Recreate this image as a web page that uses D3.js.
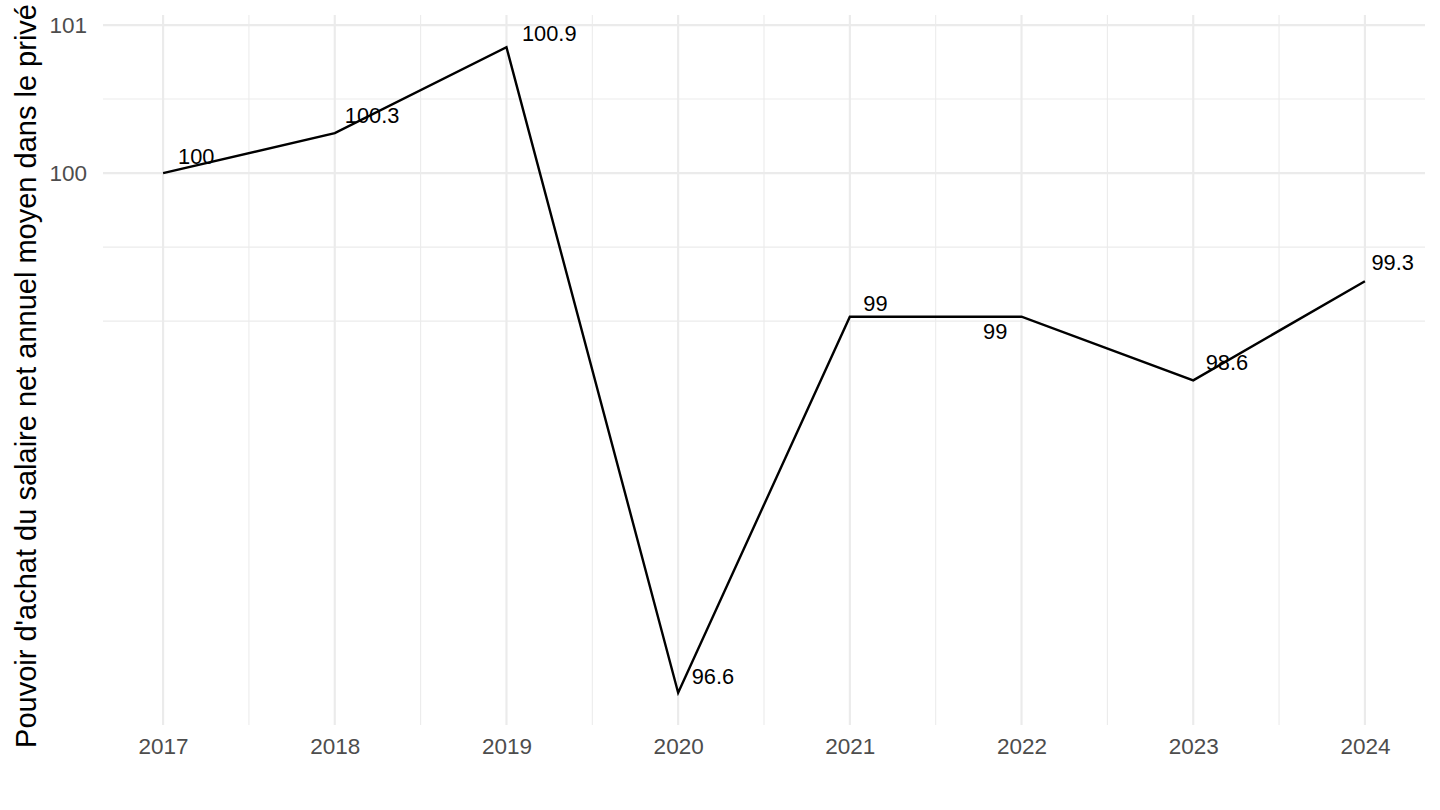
<!DOCTYPE html>
<html>
<head>
<meta charset="utf-8">
<script src="https://cdn.jsdelivr.net/npm/d3@7"></script>
<style>
  html, body { margin: 0; padding: 0; background: #fff; }
  svg { display: block; font-family: "Liberation Sans", Arial, Helvetica, sans-serif; }
</style>
</head>
<body>
<svg id="chart" width="1440" height="810"></svg>
<script>
// ---- data ----
const years = [2017, 2018, 2019, 2020, 2021, 2022, 2023, 2024];
const values = [100, 100.27, 100.85, 96.49, 99.03, 99.03, 98.6, 99.27];
const valueLabels = ["100", "100.3", "100.9", "96.6", "99", "99", "98.6", "99.3"];
const yMajorTicks = [100, 101];
const yMinorTicks = [99, 99.5, 100.5];
const yTickLabels = ["100", "101"];
const xTickLabels = ["2017", "2018", "2019", "2020", "2021", "2022", "2023", "2024"];
const yTitle = "Pouvoir d'achat du salaire net annuel moyen dans le privé";

// label nudges (text anchor offsets, px) – layout only
const labelNudges = [[15, -9], [10, -10.5], [15.5, -6], [13.5, -9], [13.5, -5.5], [-38.5, 22.5], [12.5, -10.5], [6.5, -11.5]];

// ---- layout ----
const panel = { left: 103, right: 1425, top: 15, bottom: 725 };
const svg = d3.select("#chart");

const xExt = d3.extent(years);
const xPad = (xExt[1] - xExt[0]) * 0.05;
const x = d3.scaleLinear().domain([xExt[0] - xPad, xExt[1] + xPad]).range([panel.left, panel.right]);

const yExt = d3.extent(values);
const yPad = (yExt[1] - yExt[0]) * 0.05;
const y = d3.scaleLinear().domain([yExt[0] - yPad, yExt[1] + yPad]).range([panel.bottom, panel.top]);

const grid = svg.append("g");
const gridColor = "#EBEBEB";
const xMinor = years.slice(0, -1).map(d => d + 0.5);

// minor grid
grid.selectAll(".ymin").data(yMinorTicks).join("line")
  .attr("x1", panel.left).attr("x2", panel.right)
  .attr("y1", d => y(d)).attr("y2", d => y(d))
  .attr("stroke", gridColor).attr("stroke-width", 1.07);
grid.selectAll(".xmin").data(xMinor).join("line")
  .attr("y1", panel.top).attr("y2", panel.bottom)
  .attr("x1", d => x(d)).attr("x2", d => x(d))
  .attr("stroke", gridColor).attr("stroke-width", 1.07);
// major grid
grid.selectAll(".ymaj").data(yMajorTicks).join("line")
  .attr("x1", panel.left).attr("x2", panel.right)
  .attr("y1", d => y(d)).attr("y2", d => y(d))
  .attr("stroke", gridColor).attr("stroke-width", 2.13);
grid.selectAll(".xmaj").data(years).join("line")
  .attr("y1", panel.top).attr("y2", panel.bottom)
  .attr("x1", d => x(d)).attr("x2", d => x(d))
  .attr("stroke", gridColor).attr("stroke-width", 2.13);

// axes (text only, theme_minimal)
const yAxis = d3.axisLeft(y).tickValues(yMajorTicks).tickSize(0).tickPadding(16)
  .tickFormat((d, i) => yTickLabels[i]);
const gy = svg.append("g").attr("transform", `translate(${panel.left},0)`).call(yAxis);
gy.select(".domain").remove();
gy.selectAll("text").attr("fill", "#4D4D4D").attr("font-size", 22.5)
  .attr("font-family", "Liberation Sans, Arial, sans-serif");

const xAxis = d3.axisBottom(x).tickValues(years).tickSize(0).tickPadding(13)
  .tickFormat((d, i) => xTickLabels[i]);
const gx = svg.append("g").attr("transform", `translate(0,${panel.bottom})`).call(xAxis);
gx.select(".domain").remove();
gx.selectAll("text").attr("fill", "#4D4D4D").attr("font-size", 22.5)
  .attr("font-family", "Liberation Sans, Arial, sans-serif");

// y title
svg.append("text")
  .attr("transform", `translate(36,376) rotate(-90)`)
  .attr("text-anchor", "middle")
  .attr("font-size", 29)
  .attr("fill", "#000")
  .text(yTitle);

// line
const line = d3.line().x((d, i) => x(years[i])).y(d => y(d));
svg.append("path").datum(values)
  .attr("d", line)
  .attr("fill", "none").attr("stroke", "#000").attr("stroke-width", 2.4)
  .attr("stroke-linejoin", "miter");

// value labels
svg.selectAll(".vlab").data(values).join("text")
  .attr("x", (d, i) => x(years[i]) + labelNudges[i][0])
  .attr("y", (d, i) => y(d) + labelNudges[i][1])
  .attr("font-size", 21.8)
  .attr("fill", "#000")
  .text((d, i) => valueLabels[i]);
</script>
</body>
</html>
